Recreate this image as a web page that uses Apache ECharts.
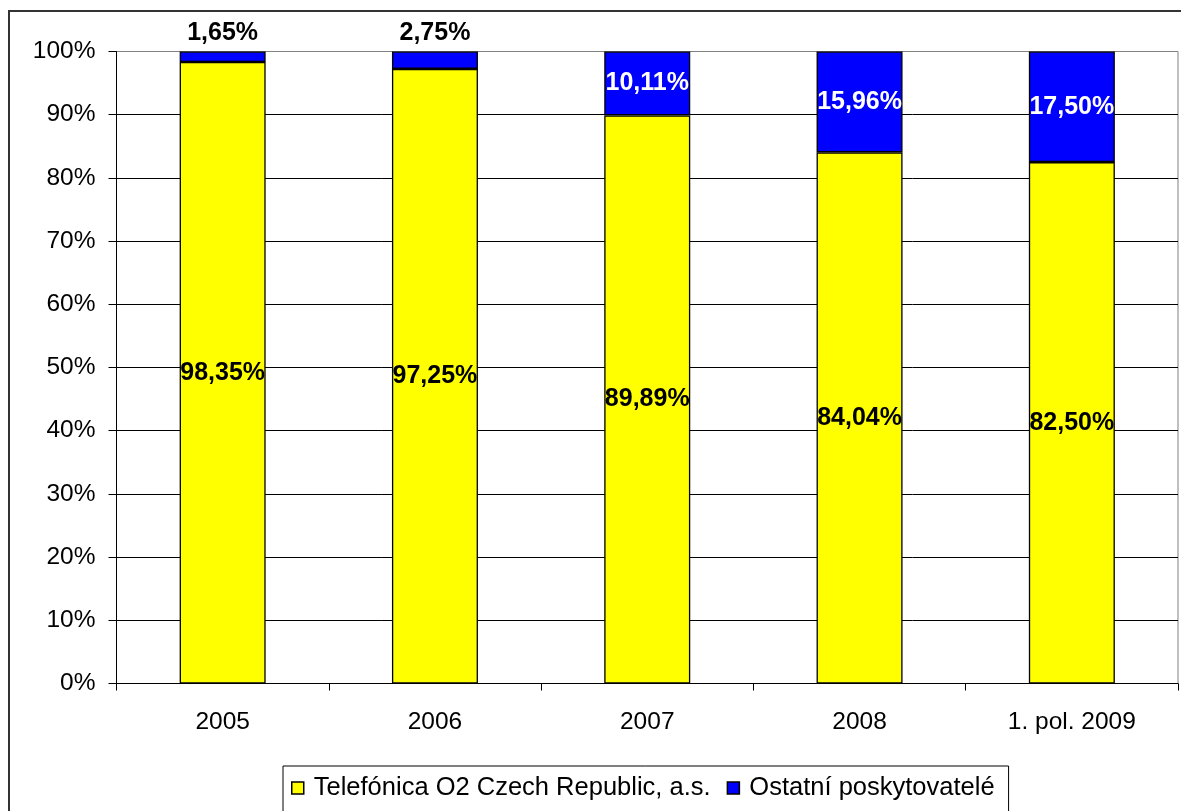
<!DOCTYPE html>
<html><head><meta charset="utf-8">
<script src="https://cdn.jsdelivr.net/npm/echarts@6/dist/echarts.min.js"></script>
<style>html,body{margin:0;padding:0;background:#fff}#c{width:1181px;height:811px}</style>
</head><body><div id="c"></div>
<script>
const categories = ['2005', '2006', '2007', '2008', '1. pol. 2009'];
const telefonica = [98.35, 97.25, 89.89, 84.04, 82.50];
const ostatni = [1.65, 2.75, 10.11, 15.96, 17.50];
const seriesNames = ['Telefónica O2 Czech Republic, a.s.', 'Ostatní poskytovatelé'];
const yTicks = [0, 10, 20, 30, 40, 50, 60, 70, 80, 90, 100];

const fmt = v => v.toFixed(2).replace('.', ',') + '%';
const FONT = 'Liberation Sans, Arial, sans-serif';

const chart = echarts.init(document.getElementById('c'), null, {renderer: 'canvas'});
const splitColors = yTicks.map((t, i) => i === yTicks.length - 1 ? '#808080' : '#000000');

chart.setOption({
  animation: false,
  backgroundColor: '#fff',
  textStyle: {fontFamily: FONT},
  graphic: [{
    type: 'rect', shape: {x: 9, y: 11, width: 1200, height: 900},
    style: {fill: 'none', stroke: '#333', lineWidth: 2}, z: -1
  }],
  grid: {left: 116.5, top: 51.5, right: 3, bottom: 127.5, show: true, borderColor: '#808080', borderWidth: 1, backgroundColor: 'transparent'},
  legend: {
    left: 283, top: 766, itemWidth: 12, itemHeight: 12, itemGap: 16,
    icon: 'rect',
    padding: [9, 14, 20, 8],
    borderColor: '#000', borderWidth: 1,
    textStyle: {fontSize: 25.5, color: '#000', fontFamily: FONT, padding: [0, 0, 0, 5]},
    data: seriesNames.map(n => ({name: n, itemStyle: {borderColor: '#000', borderWidth: 1.5}}))
  },
  xAxis: {
    type: 'category', data: categories,
    axisLine: {lineStyle: {color: '#000', width: 1}},
    axisTick: {show: true, length: 7, lineStyle: {color: '#000'}},
    axisLabel: {fontSize: 24.5, color: '#000', margin: 26, fontFamily: FONT},
    splitLine: {show: false}
  },
  yAxis: {
    type: 'value', min: 0, max: 100, interval: 10,
    axisLine: {show: true, lineStyle: {color: '#000', width: 1}},
    axisTick: {show: true, length: 8, lineStyle: {color: '#000'}},
    axisLabel: {fontSize: 24.5, color: '#000', margin: 21, fontFamily: FONT, formatter: v => v + '%'},
    splitLine: {show: true, lineStyle: {color: splitColors, width: 1}}
  },
  series: [
    {
      name: seriesNames[0], type: 'bar', stack: 's', barWidth: '40.5%',
      itemStyle: {color: '#FFFF00', borderColor: '#000', borderWidth: 1.3},
      label: {show: true, position: 'inside', fontSize: 25, fontWeight: 'bold', color: '#000', fontFamily: FONT,
        formatter: p => fmt(p.value)},
      data: telefonica
    },
    {
      name: seriesNames[1], type: 'bar', stack: 's', barWidth: '40.5%',
      itemStyle: {color: '#0000FF', borderColor: '#000', borderWidth: 1.3},
      label: {show: true, fontSize: 25, fontWeight: 'bold', fontFamily: FONT, formatter: p => fmt(p.value)},
      data: ostatni.map(v => v < 5
        ? {value: v, label: {position: 'top', distance: 6, color: '#000'}}
        : {value: v, label: {position: 'inside', color: '#fff'}})
    }
  ]
});
</script></body></html>
